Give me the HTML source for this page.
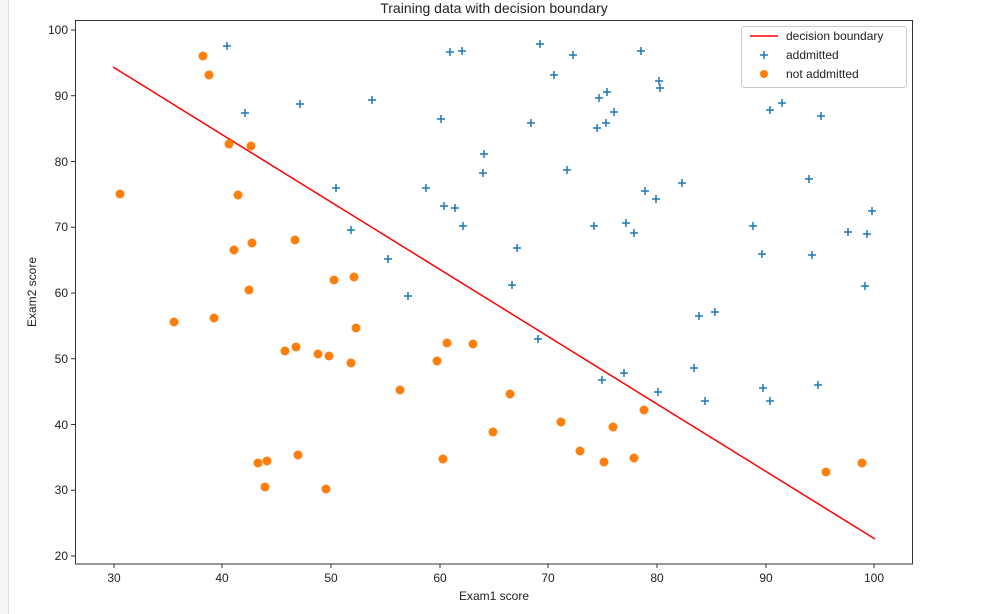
<!DOCTYPE html>
<html><head><style>body{margin:0;background:#fff}svg{display:block}text{font-family:"Liberation Sans","DejaVu Sans",sans-serif;fill:#222}</style></head><body>
<svg width="1002" height="614" xmlns="http://www.w3.org/2000/svg">
<rect x="0" y="0" width="8" height="614" fill="#f5f5f5"/>
<line x1="8.5" y1="0" x2="8.5" y2="614" stroke="#ddd"/>
<text x="494" y="13" font-size="14" text-anchor="middle">Training data with decision boundary</text>
<g stroke="#333" stroke-width="1">
<rect x="75.5" y="20.5" width="837" height="543.5" fill="none"/>
<line x1="114" y1="564" x2="114" y2="568"/><line x1="222" y1="564" x2="222" y2="568"/><line x1="331" y1="564" x2="331" y2="568"/><line x1="440" y1="564" x2="440" y2="568"/><line x1="548" y1="564" x2="548" y2="568"/><line x1="657" y1="564" x2="657" y2="568"/><line x1="766" y1="564" x2="766" y2="568"/><line x1="874" y1="564" x2="874" y2="568"/>
<line x1="71" y1="30" x2="75" y2="30"/><line x1="71" y1="95.7" x2="75" y2="95.7"/><line x1="71" y1="161.5" x2="75" y2="161.5"/><line x1="71" y1="227.2" x2="75" y2="227.2"/><line x1="71" y1="293" x2="75" y2="293"/><line x1="71" y1="358.7" x2="75" y2="358.7"/><line x1="71" y1="424.5" x2="75" y2="424.5"/><line x1="71" y1="490.2" x2="75" y2="490.2"/><line x1="71" y1="556" x2="71" y2="556"/><line x1="71" y1="556" x2="75" y2="556"/>
</g>
<g font-size="12" text-anchor="middle">
<text x="114" y="582">30</text><text x="222" y="582">40</text><text x="331" y="582">50</text><text x="440" y="582">60</text><text x="548" y="582">70</text><text x="657" y="582">80</text><text x="766" y="582">90</text><text x="874" y="582">100</text>
</g>
<g font-size="12" text-anchor="end">
<text x="68" y="34">100</text><text x="68" y="100">90</text><text x="68" y="166">80</text><text x="68" y="231">70</text><text x="68" y="297">60</text><text x="68" y="363">50</text><text x="68" y="429">40</text><text x="68" y="494">30</text><text x="68" y="560">20</text>
</g>
<text x="494" y="600" font-size="12" text-anchor="middle">Exam1 score</text>
<text transform="translate(36,292) rotate(-90)" font-size="12" text-anchor="middle">Exam2 score</text>
<line x1="113" y1="67" x2="875" y2="539" stroke="#f00" stroke-width="1.5"/>
<g stroke="#1f77b4" stroke-width="1.5" id="plus"></g>
<g fill="#ff7f0e" id="dots"></g>
<rect x="741.5" y="26.5" width="165" height="61" fill="#fff" stroke="#ccc" rx="3"/>
<line x1="750" y1="36" x2="778" y2="36" stroke="#f00" stroke-width="1.5"/>
<text x="786" y="40" font-size="12">decision boundary</text>
<path d="M764 51v8M760 55h8" stroke="#1f77b4" stroke-width="1.5"/>
<text x="786" y="59" font-size="12">addmitted</text>
<circle cx="764" cy="74" r="4" fill="#ff7f0e"/>
<text x="786" y="78" font-size="12">not addmitted</text>
<script>
var A=[[227,46],[450,52],[462,51],[540,44],[573,55],[641,51],[245,113],[300,104],[372,100],[441,119],[554,75],[607,92],[659,81],[660,88],[599,98],[614,112],[531,123],[597,128],[606,123],[782,103],[770,110],[821,116],[484,154],[483,173],[336,188],[426,188],[444,206],[455,208],[463,226],[567,170],[682,183],[645,191],[656,199],[809,179],[626,223],[634,233],[594,226],[517,248],[753,226],[351,230],[388,259],[762,254],[812,255],[848,232],[867,234],[872,211],[408,296],[512,285],[865,286],[699,316],[715,312],[538,339],[694,368],[602,380],[624,373],[658,392],[705,401],[763,388],[770,401],[818,385]];
var B=[[203,56],[209,75],[229,144],[251,146],[120,194],[238,195],[295,240],[252,243],[234,250],[334,280],[354,277],[249,290],[174,322],[214,318],[356,328],[296,347],[285,351],[318,354],[329,356],[351,363],[437,361],[447,343],[473,344],[400,390],[510,394],[561,422],[644,410],[613,427],[493,432],[580,451],[443,459],[258,463],[267,461],[298,455],[634,458],[604,462],[826,472],[862,463],[265,487],[326,489]];
var ns="http://www.w3.org/2000/svg",p=document.getElementById('plus'),d=document.getElementById('dots');
A.forEach(function(a){var e=document.createElementNS(ns,'path');e.setAttribute('d','M'+a[0]+' '+(a[1]-4)+'v8M'+(a[0]-4)+' '+a[1]+'h8');p.appendChild(e);});
B.forEach(function(b){var e=document.createElementNS(ns,'circle');e.setAttribute('cx',b[0]);e.setAttribute('cy',b[1]);e.setAttribute('r',4.5);d.appendChild(e);});
</script>
</svg>
</body></html>
